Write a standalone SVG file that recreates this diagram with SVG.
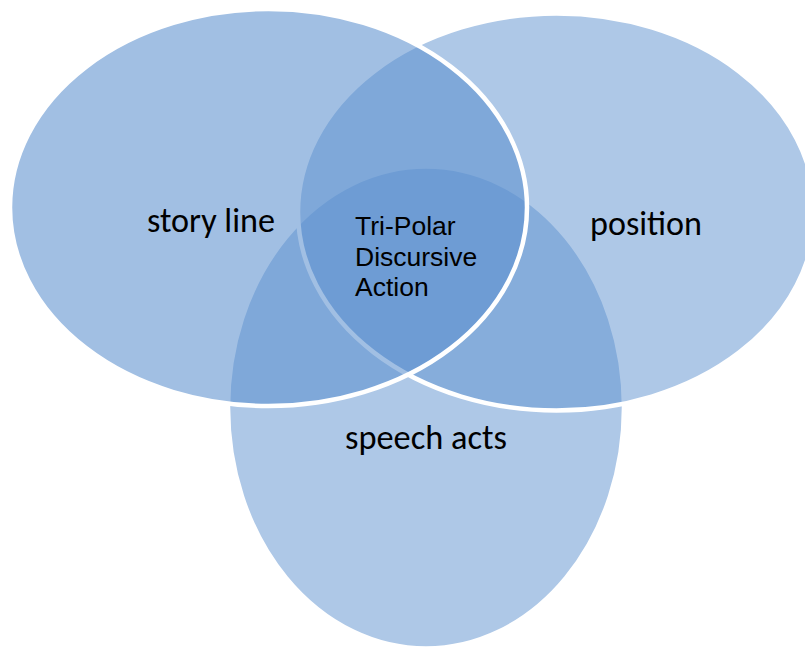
<svg xmlns="http://www.w3.org/2000/svg" width="805" height="649" viewBox="0 0 805 649">
  <style>
    .set { fill: rgb(93,145,207); stroke: #ffffff; stroke-width: 4.5; }
    .label { font-family: "Carlito", "Lato", "Open Sans", sans-serif; font-size: 34px; fill: #000000; }
    .core { font-family: "Liberation Sans", Arial, sans-serif; font-size: 26.5px; fill: #000000; }
  </style>
  <rect x="0" y="0" width="805" height="649" fill="#ffffff"/>

  <!-- bottom set, drawn first so the other two overlay it -->
  <g id="speech-acts">
    <ellipse class="set" cx="426" cy="407.5" rx="198" ry="241" fill-opacity="0.5"/>
    <text class="label" x="345" y="448.5" textLength="162" lengthAdjust="spacingAndGlyphs">speech acts</text>
  </g>

  <!-- right set -->
  <g id="position">
    <ellipse class="set" cx="556.5" cy="212" rx="258.5" ry="198.5" fill-opacity="0.5"/>
    <text class="label" x="590" y="235" textLength="112" lengthAdjust="spacingAndGlyphs">position</text>
  </g>

  <!-- left set, topmost -->
  <g id="story-line">
    <ellipse class="set" cx="268.5" cy="207.5" rx="258.5" ry="198.5" fill-opacity="0.58"/>
    <text class="label" x="147" y="232" textLength="128" lengthAdjust="spacingAndGlyphs">story line</text>
  </g>

  <!-- shared centre of all three sets -->
  <g id="tri-polar">
    <text class="core" x="355" y="235">Tri-Polar</text>
    <text class="core" x="355" y="265.5">Discursive</text>
    <text class="core" x="355" y="296">Action</text>
  </g>
</svg>
